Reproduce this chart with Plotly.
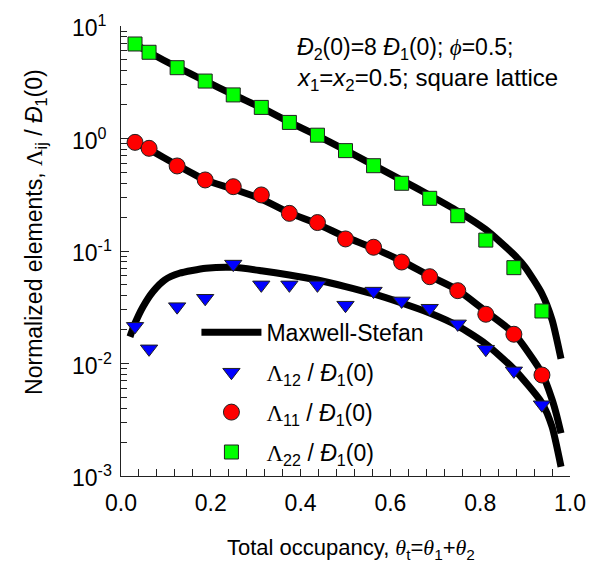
import plotly.graph_objects as go

# Total occupancy at the lattice points (sampled values)
theta_pts = [0.03125, 0.0625, 0.125, 0.1875, 0.25, 0.3125, 0.375, 0.4375,
             0.5, 0.5625, 0.625, 0.6875, 0.75, 0.8125, 0.875, 0.9375]

# Normalized Onsager-type elements from simulations
lam12 = [0.0214, 0.0135, 0.032, 0.038, 0.0765, 0.050, 0.050, 0.050,
         0.033, 0.044, 0.036, 0.031, 0.0225, 0.0134, 0.0086, 0.0043]
lam11 = [0.924, 0.818, 0.570, 0.428, 0.373, 0.315, 0.216, 0.179,
         0.128, 0.108, 0.0798, 0.0591, 0.0444, 0.0274, 0.0182, 0.0079]
lam22 = [6.92, 5.84, 4.26, 3.24, 2.44, 1.89, 1.39, 1.07,
         0.78, 0.573, 0.40, 0.294, 0.206, 0.125, 0.0711, 0.0293]

# Maxwell-Stefan model curves
ms22_x = [0.03, 0.0625, 0.125, 0.1875, 0.25, 0.3125, 0.375, 0.4375, 0.5,
          0.5625, 0.625, 0.6875, 0.75, 0.8125, 0.875, 0.9, 0.9375, 0.96, 0.98]
ms22_y = [6.95, 5.85, 4.3, 3.25, 2.45, 1.88, 1.40, 1.06, 0.79,
          0.58, 0.427, 0.313, 0.226, 0.155, 0.093, 0.072, 0.0417, 0.0245, 0.011]

ms11_x = [0.03, 0.0625, 0.125, 0.1875, 0.25, 0.3125, 0.375, 0.4375, 0.5,
          0.5625, 0.625, 0.6875, 0.75, 0.8125, 0.875, 0.9375, 0.96, 0.97, 0.98]
ms11_y = [0.93, 0.80, 0.58, 0.428, 0.356, 0.29, 0.218, 0.174, 0.133,
          0.106, 0.0815, 0.060, 0.045, 0.029, 0.0185, 0.0082, 0.0048, 0.0035, 0.0024]

ms12_x = [0.02, 0.031, 0.049, 0.071, 0.097, 0.13, 0.189, 0.25, 0.3125,
          0.375, 0.4375, 0.5, 0.5625, 0.625, 0.6875, 0.75, 0.8125, 0.875,
          0.9375, 0.96, 0.98]
ms12_y = [0.0173, 0.0227, 0.032, 0.0435, 0.0552, 0.0634, 0.0702, 0.0716, 0.0668,
          0.0612, 0.0552, 0.0483, 0.0415, 0.0345, 0.0281, 0.0216, 0.0149, 0.00893,
          0.00446, 0.00274, 0.00121]

# Axis ticks
x_ticks = [0.0, 0.2, 0.4, 0.6, 0.8, 1.0]
x_tick_text = ["0.0", "0.2", "0.4", "0.6", "0.8", "1.0"]
y_exponents = [-3, -2, -1, 0, 1]
y_tick_text = ["10<sup>-3</sup>", "10<sup>-2</sup>", "10<sup>-1</sup>",
               "10<sup>0</sup>", "10<sup>1</sup>"]

FONT = "Arial, Liberation Sans, sans-serif"
SERIF = "font-family:Liberation Serif, Times New Roman, serif"
LAM = f'<span style="{SERIF}">Λ</span>'
D = "<i>Đ</i>"

fig = go.Figure()

ms_line = dict(color="black", width=7)
for i, (xs, ys) in enumerate([(ms22_x, ms22_y), (ms11_x, ms11_y), (ms12_x, ms12_y)]):
    fig.add_trace(go.Scatter(
        x=xs, y=ys, mode="lines", line=dict(shape="spline", smoothing=0.6, **ms_line),
        name="Maxwell-Stefan", legendgroup="ms", showlegend=(i == 0)))

mk_line = dict(color="#202020", width=1)
fig.add_trace(go.Scatter(
    x=theta_pts, y=lam12, mode="markers", legendgroup="l12",
    name=f"{LAM}<sub>12</sub> / {D}<sub>1</sub>(0)",
    marker=dict(symbol="triangle-down", size=15, color="#0000ff", line=mk_line)))
fig.add_trace(go.Scatter(
    x=theta_pts, y=lam11, mode="markers", legendgroup="l11",
    name=f"{LAM}<sub>11</sub> / {D}<sub>1</sub>(0)",
    marker=dict(symbol="circle", size=16, color="#ff0000", line=mk_line)))
fig.add_trace(go.Scatter(
    x=theta_pts, y=lam22, mode="markers", legendgroup="l22",
    name=f"{LAM}<sub>22</sub> / {D}<sub>1</sub>(0)",
    marker=dict(symbol="square", size=14, color="#00ff00", line=mk_line)))

minor_y = [m * 10.0 ** e for e in range(-3, 1) for m in range(2, 10)]

fig.update_xaxes(
    range=[0, 1], showline=True, linecolor="#222", linewidth=1, showgrid=False,
    zeroline=False, ticks="inside", ticklen=7, tickcolor="#222",
    tickmode="array", tickvals=x_ticks, ticktext=x_tick_text,
    tickfont=dict(size=23), ticklabelstandoff=6,
    minor=dict(ticks="inside", ticklen=7, tickcolor="#222", dtick=0.04, tick0=0))
fig.update_yaxes(
    type="log", range=[-3, 1], showline=True, linecolor="#222", linewidth=1,
    showgrid=False, zeroline=False, ticks="inside", ticklen=8, tickcolor="#222",
    tickmode="array", tickvals=[10.0 ** e for e in y_exponents], showticklabels=False,
    minor=dict(ticks="inside", ticklen=6, tickcolor="#222",
               tickmode="array", tickvals=minor_y))

annotations = []
# y tick labels, left aligned
for e, t in zip(y_exponents, y_tick_text):
    annotations.append(dict(x=-0.1126, xref="paper", y=e, yref="y", text=t,
                            xanchor="left", yanchor="middle", showarrow=False,
                            font=dict(size=23)))
annotations += [
    dict(x=0.512, y=-0.163, xref="paper", yref="paper", showarrow=False,
         xanchor="center", yanchor="middle", font=dict(size=22),
         text=f'Total occupancy, <span style="{SERIF}"><i>θ</i></span><sub>t</sub>='
              f'<span style="{SERIF}"><i>θ</i></span><sub>1</sub>+'
              f'<span style="{SERIF}"><i>θ</i></span><sub>2</sub>'),
    dict(x=-0.192, y=0.542, xref="paper", yref="paper", showarrow=False,
         textangle=-90, xanchor="center", yanchor="middle", font=dict(size=23),
         text=f"Normalized elements, {LAM}<sub>ij</sub> / {D}<sub>1</sub>(0)"),
    dict(x=0.3885, y=0.951, xref="paper", yref="paper", showarrow=False,
         xanchor="left", yanchor="middle", font=dict(size=23),
         text=f'{D}<sub>2</sub>(0)=8 {D}<sub>1</sub>(0); '
              f'<span style="{SERIF}"><i>ϕ</i></span>=0.5;'),
    dict(x=0.3885, y=0.882, xref="paper", yref="paper", showarrow=False,
         xanchor="left", yanchor="middle", font=dict(size=24),
         text="<i>x</i><sub>1</sub>=<i>x</i><sub>2</sub>=0.5; square lattice"),
]

fig.update_layout(
    width=598, height=574,
    margin=dict(l=121, r=24, t=26, b=98),
    plot_bgcolor="white", paper_bgcolor="white",
    font=dict(family=FONT, size=23, color="black"),
    annotations=annotations,
    legend=dict(x=0.168, y=0.367, xanchor="left", yanchor="top",
                bgcolor="rgba(0,0,0,0)", font=dict(size=23), itemwidth=60,
                traceorder="grouped", tracegroupgap=7),
)

fig.write_html("out.html")
